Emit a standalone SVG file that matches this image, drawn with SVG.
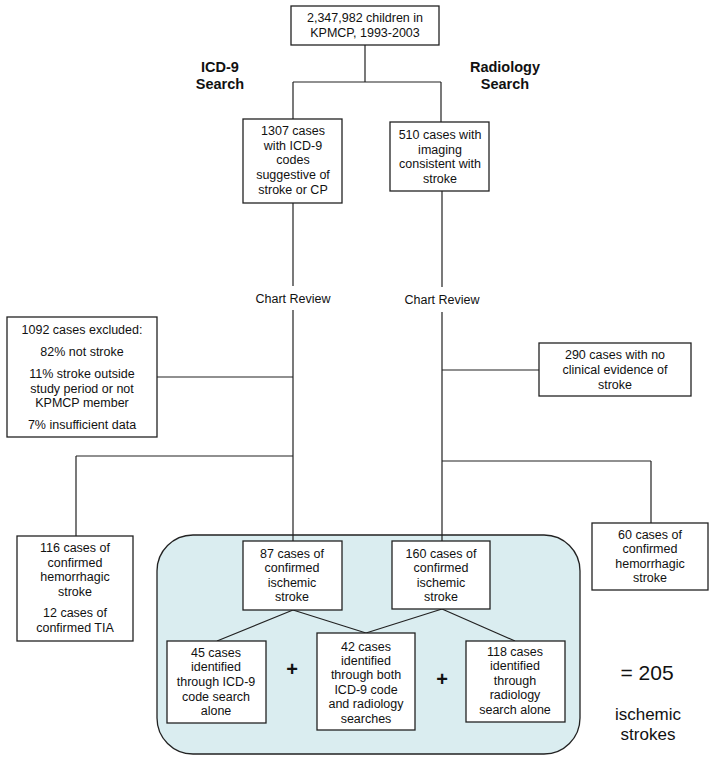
<svg xmlns="http://www.w3.org/2000/svg" width="715" height="761" viewBox="0 0 715 761">
<style>
.b{fill:#fff;stroke:#222;stroke-width:1.3}
.t{font-family:"Liberation Sans",Arial,sans-serif;font-size:12.5px;fill:#111;text-anchor:middle}
.h{font-family:"Liberation Sans",Arial,sans-serif;font-size:14.5px;font-weight:bold;fill:#111;text-anchor:middle}
.c{fill:none;stroke:#222;stroke-width:1.2}
</style>
<rect width="715" height="761" fill="#fff"/>
<rect x="157" y="535" width="423" height="219" rx="36" ry="36" fill="#daedf0" stroke="#222" stroke-width="1.3"/>
<g id="connectors">
<path class="c" d="M365,45 V82 M293,82 H441 M293,82 V119 M441,82 V122"/>
<path class="c" d="M293,203 V286 M293,310 V541 M157,377 H293 M76,456 H293 M76,456 V536"/>
<path class="c" d="M442,191 V287 M442,312 V541 M442,370 H539 M442,461 H651 M651,461 V523"/>
<path class="c" d="M293,610 L217,641 M293,610 L366,633 M442,609 L366,633 M442,609 L515,641"/>
</g>
<text class="h" x="220" y="72">ICD-9</text>
<text class="h" x="220" y="89">Search</text>
<text class="h" x="505" y="72">Radiology</text>
<text class="h" x="505" y="89">Search</text>
<g id="n-total"><rect class="b" x="291" y="6" width="148" height="39"/>
<text class="t" x="365" y="22">2,347,982 children in</text><text class="t" x="365" y="37">KPMCP, 1993-2003</text></g>
<g id="n-icd"><rect class="b" x="243" y="119" width="99" height="84"/>
<text class="t" x="293" y="135">1307 cases</text><text class="t" x="293" y="150">with ICD-9</text><text class="t" x="293" y="164">codes</text><text class="t" x="293" y="179">suggestive of</text><text class="t" x="293" y="194">stroke or CP</text></g>
<g id="n-rad"><rect class="b" x="390" y="122" width="99" height="69"/>
<text class="t" x="440" y="139">510 cases with</text><text class="t" x="440" y="154">imaging</text><text class="t" x="440" y="168">consistent with</text><text class="t" x="440" y="183">stroke</text></g>
<g id="n-cr1"><text class="t" x="293" y="303">Chart Review</text></g>
<g id="n-cr2"><text class="t" x="442" y="304">Chart Review</text></g>
<g id="n-excl"><rect class="b" x="7" y="317" width="150" height="120"/>
<text class="t" x="82" y="334">1092 cases excluded:</text><text class="t" x="82" y="356">82% not stroke</text><text class="t" x="82" y="378">11% stroke outside</text><text class="t" x="82" y="393">study period or not</text><text class="t" x="82" y="407">KPMCP member</text><text class="t" x="82" y="429">7% insufficient data</text></g>
<g id="n-290"><rect class="b" x="539" y="343" width="152" height="53"/>
<text class="t" x="615" y="359">290 cases with no</text><text class="t" x="615" y="374">clinical evidence of</text><text class="t" x="615" y="389">stroke</text></g>
<g id="n-116"><rect class="b" x="17" y="536" width="116" height="105"/>
<text class="t" x="75" y="552">116 cases of</text><text class="t" x="75" y="567">confirmed</text><text class="t" x="75" y="581">hemorrhagic</text><text class="t" x="75" y="596">stroke</text><text class="t" x="75" y="617">12 cases of</text><text class="t" x="75" y="632">confirmed TIA</text></g>
<g id="n-60"><rect class="b" x="592" y="523" width="116" height="67"/>
<text class="t" x="650" y="539">60 cases of</text><text class="t" x="650" y="553">confirmed</text><text class="t" x="650" y="568">hemorrhagic</text><text class="t" x="650" y="582">stroke</text></g>
<g id="n-87"><rect class="b" x="243" y="541" width="99" height="69"/>
<text class="t" x="292" y="558">87 cases of</text><text class="t" x="292" y="572">confirmed</text><text class="t" x="292" y="587">ischemic</text><text class="t" x="292" y="601">stroke</text></g>
<g id="n-160"><rect class="b" x="392" y="541" width="98" height="68"/>
<text class="t" x="441" y="558">160 cases of</text><text class="t" x="441" y="572">confirmed</text><text class="t" x="441" y="587">ischemic</text><text class="t" x="441" y="601">stroke</text></g>
<g id="n-45"><rect class="b" x="167" y="641" width="99" height="82"/>
<text class="t" x="216" y="657">45 cases</text><text class="t" x="216" y="671">identified</text><text class="t" x="216" y="686">through ICD-9</text><text class="t" x="216" y="701">code search</text><text class="t" x="216" y="715">alone</text></g>
<g id="n-42"><rect class="b" x="317" y="633" width="98" height="97"/>
<text class="t" x="366" y="651">42 cases</text><text class="t" x="366" y="665">identified</text><text class="t" x="366" y="679">through both</text><text class="t" x="366" y="694">ICD-9 code</text><text class="t" x="366" y="708">and radiology</text><text class="t" x="366" y="723">searches</text></g>
<g id="n-118"><rect class="b" x="466" y="641" width="99" height="81"/>
<text class="t" x="515" y="656">118 cases</text><text class="t" x="515" y="670">identified</text><text class="t" x="515" y="685">through</text><text class="t" x="515" y="699">radiology</text><text class="t" x="515" y="714">search alone</text></g>
<text x="292" y="676" font-family="Liberation Sans,Arial,sans-serif" font-size="20" font-weight="bold" text-anchor="middle" fill="#111">+</text>
<text x="442" y="686" font-family="Liberation Sans,Arial,sans-serif" font-size="20" font-weight="bold" text-anchor="middle" fill="#111">+</text>
<g id="n-total205">
<text x="647" y="680" font-family="Liberation Sans,Arial,sans-serif" font-size="21" text-anchor="middle" fill="#111">= 205</text>
<text x="648" y="720" font-family="Liberation Sans,Arial,sans-serif" font-size="17" text-anchor="middle" fill="#111">ischemic</text>
<text x="648" y="740" font-family="Liberation Sans,Arial,sans-serif" font-size="17" text-anchor="middle" fill="#111">strokes</text>
</g>
</svg>
